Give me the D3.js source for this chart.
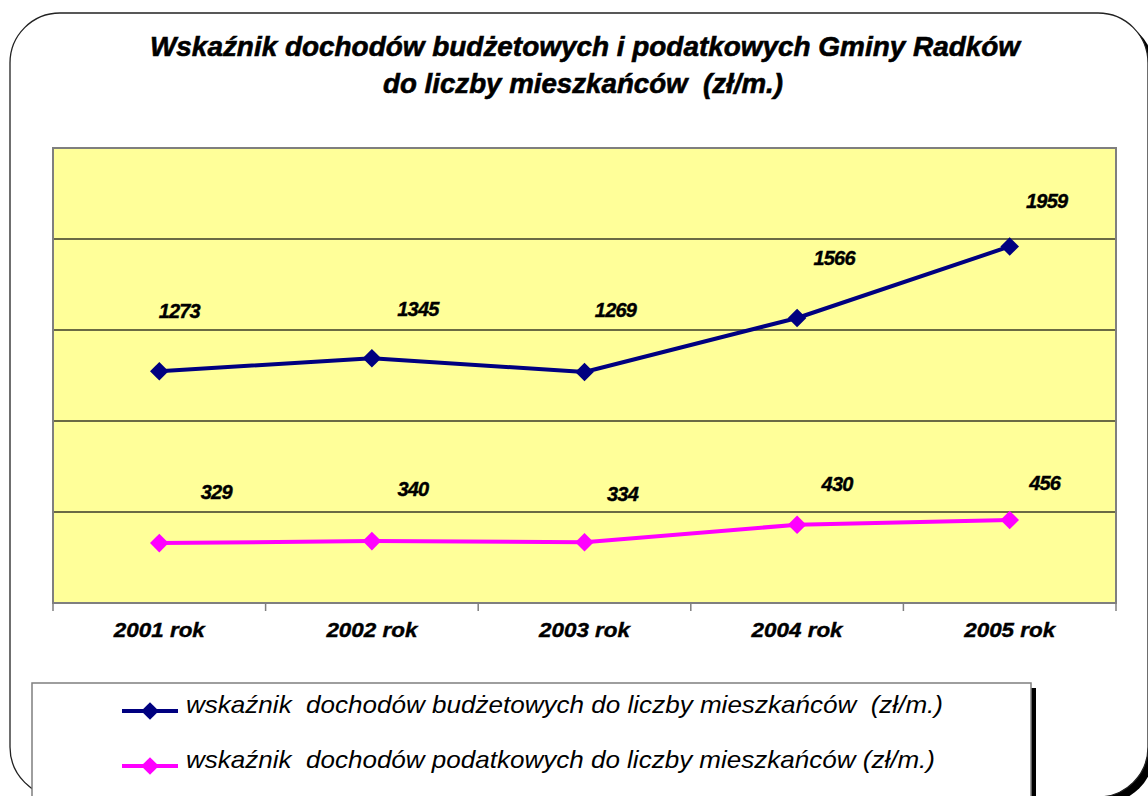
<!DOCTYPE html>
<html>
<head>
<meta charset="utf-8">
<script src="https://cdn.jsdelivr.net/npm/d3@7"></script>
<style>
  html, body { margin: 0; padding: 0; background: #fff; overflow: hidden; }
  svg { display: block; font-family: "Liberation Sans", Arial, sans-serif; }
</style>
</head>
<body>
<div id="chart"></div>
<script>
"use strict";

// chart data
var years = ["2001 rok", "2002 rok", "2003 rok", "2004 rok", "2005 rok"];
var budzetowe = [1273, 1345, 1269, 1566, 1959];
var podatkowe = [329, 340, 334, 430, 456];
var seriesNames = [
  "wskaźnik  dochodów budżetowych do liczby mieszkańców  (zł/m.)",
  "wskaźnik  dochodów podatkowych do liczby mieszkańców (zł/m.)"
];
var titleLines = [
  "Wskaźnik dochodów budżetowych i podatkowych Gminy Radków",
  "do liczby mieszkańców  (zł/m.)"
];
var yTicks = [0, 500, 1000, 1500, 2000, 2500];

// labels were dragged by hand in the original, so keep a small nudge per point
var labelNudge = [
  [[20, -53], [46, -42], [31, -55], [37, -53], [37, -38]],
  [[57, -44], [41, -45], [38, -41], [40, -34], [35, -30]]
];

var W = 1148, H = 796;
var plot = { left: 53, top: 148, right: 1116, bottom: 603 };

var svg = d3.select("#chart").append("svg")
  .attr("width", W)
  .attr("height", H);

// outer frame with shadow
svg.append("rect")
  .attr("x", 16).attr("y", 19)
  .attr("width", 1138).attr("height", 784)
  .attr("rx", 50).attr("ry", 50)
  .style("fill", "#000");
svg.append("rect")
  .attr("x", 10).attr("y", 13)
  .attr("width", 1138).attr("height", 784)
  .attr("rx", 50).attr("ry", 50)
  .style("fill", "#fff")
  .style("stroke", "#222")
  .style("stroke-width", 1.3);

// title
var titleWidths = [870, 400];
svg.selectAll("text.title")
  .data(titleLines)
  .enter()
  .append("text")
  .attr("class", "title")
  .attr("x", function(d, i) { return i == 0 ? 585 : 583; })
  .attr("y", function(d, i) { return 56 + i * 37; })
  .attr("text-anchor", "middle")
  .attr("textLength", function(d, i) { return titleWidths[i]; })
  .attr("lengthAdjust", "spacingAndGlyphs")
  .style("white-space", "pre")
  .style("font-size", "28px")
  .style("font-weight", "bold")
  .style("font-style", "italic")
  .style("fill", "#000")
  .style("stroke", "#000")
  .style("stroke-width", 0.6)
  .text(function(d) { return d; });

var x = d3.scaleBand()
  .domain(years)
  .range([plot.left, plot.right]);

var y = d3.scaleLinear()
  .domain([0, 2500])
  .range([plot.bottom, plot.top]);

// plot background
svg.append("rect")
  .attr("x", plot.left).attr("y", plot.top)
  .attr("width", plot.right - plot.left)
  .attr("height", plot.bottom - plot.top)
  .style("fill", "#ffff99");

// gridlines
svg.append("g")
  .selectAll("line")
  .data(yTicks.slice(1, -1))
  .enter()
  .append("line")
  .attr("x1", plot.left).attr("x2", plot.right)
  .attr("y1", function(d) { return y(d); })
  .attr("y2", function(d) { return y(d); })
  .style("stroke", "#3a3a28")
  .style("stroke-width", 1.3);

// plot border
svg.append("rect")
  .attr("x", plot.left).attr("y", plot.top)
  .attr("width", plot.right - plot.left)
  .attr("height", plot.bottom - plot.top)
  .style("fill", "none")
  .style("stroke", "#7f7f7f")
  .style("stroke-width", 2);

// category ticks on the boundaries
var bounds = years.map(function(d) { return x(d); }).concat([plot.right]);
svg.append("g")
  .selectAll("line")
  .data(bounds)
  .enter()
  .append("line")
  .attr("x1", function(d) { return d; })
  .attr("x2", function(d) { return d; })
  .attr("y1", plot.bottom)
  .attr("y2", plot.bottom + 8)
  .style("stroke", "#7f7f7f")
  .style("stroke-width", 1.5);

// x labels
svg.append("g")
  .selectAll("text")
  .data(years)
  .enter()
  .append("text")
  .attr("x", function(d) { return x(d) + x.bandwidth() / 2; })
  .attr("y", 637)
  .attr("text-anchor", "middle")
  .attr("textLength", 91)
  .attr("lengthAdjust", "spacingAndGlyphs")
  .style("font-size", "21px")
  .style("font-weight", "bold")
  .style("font-style", "italic")
  .style("stroke", "#000")
  .style("stroke-width", 0.4)
  .text(function(d) { return d; });

var series = [
  { values: budzetowe, color: "#000080" },
  { values: podatkowe, color: "#ff00ff" }
];

var line = d3.line()
  .x(function(d, i) { return x(years[i]) + x.bandwidth() / 2; })
  .y(function(d) { return y(d); });

var diamond = d3.symbol().type(d3.symbolDiamond2).size(220);

series.forEach(function(s, si) {
  var g = svg.append("g");
  g.append("path")
    .datum(s.values)
    .attr("d", line)
    .style("fill", "none")
    .style("stroke", s.color)
    .style("stroke-width", 4)
    .style("stroke-linejoin", "round");

  g.selectAll("path.marker")
    .data(s.values)
    .enter()
    .append("path")
    .attr("class", "marker")
    .attr("d", diamond)
    .attr("transform", function(d, i) {
      return "translate(" + (x(years[i]) + x.bandwidth() / 2) + "," + y(d) + ")";
    })
    .style("fill", s.color);

  g.selectAll("text")
    .data(s.values)
    .enter()
    .append("text")
    .attr("x", function(d, i) {
      return x(years[i]) + x.bandwidth() / 2 + labelNudge[si][i][0];
    })
    .attr("y", function(d, i) { return y(d) + labelNudge[si][i][1]; })
    .attr("text-anchor", "middle")
    .style("font-size", "20px")
    .style("font-weight", "bold")
    .style("font-style", "italic")
    .style("letter-spacing", "-0.8px")
    .style("stroke", "#000")
    .style("stroke-width", 0.4)
    .text(function(d) { return d; });
});

// legend box with shadow
svg.append("rect")
  .attr("x", 37).attr("y", 688)
  .attr("width", 999).attr("height", 140)
  .style("fill", "#000");
svg.append("rect")
  .attr("x", 32).attr("y", 683)
  .attr("width", 999).attr("height", 140)
  .style("fill", "#fff")
  .style("stroke", "#7f7f7f")
  .style("stroke-width", 1.5);

var legendWidths = [757, 749];
var legend = svg.append("g")
  .selectAll("g")
  .data(series)
  .enter()
  .append("g")
  .attr("transform", function(d, i) { return "translate(0," + (711 + i * 55) + ")"; });

legend.append("line")
  .attr("x1", 122).attr("x2", 178)
  .style("stroke", function(d) { return d.color; })
  .style("stroke-width", 4);

legend.append("path")
  .attr("d", d3.symbol().type(d3.symbolDiamond2).size(200))
  .attr("transform", "translate(150,0)")
  .style("fill", function(d) { return d.color; });

legend.append("text")
  .attr("x", 186)
  .attr("y", 2)
  .attr("textLength", function(d, i) { return legendWidths[i]; })
  .attr("lengthAdjust", "spacingAndGlyphs")
  .style("white-space", "pre")
  .style("font-size", "24px")
  .style("font-style", "italic")
  .text(function(d, i) { return seriesNames[i]; });
</script>
</body>
</html>
